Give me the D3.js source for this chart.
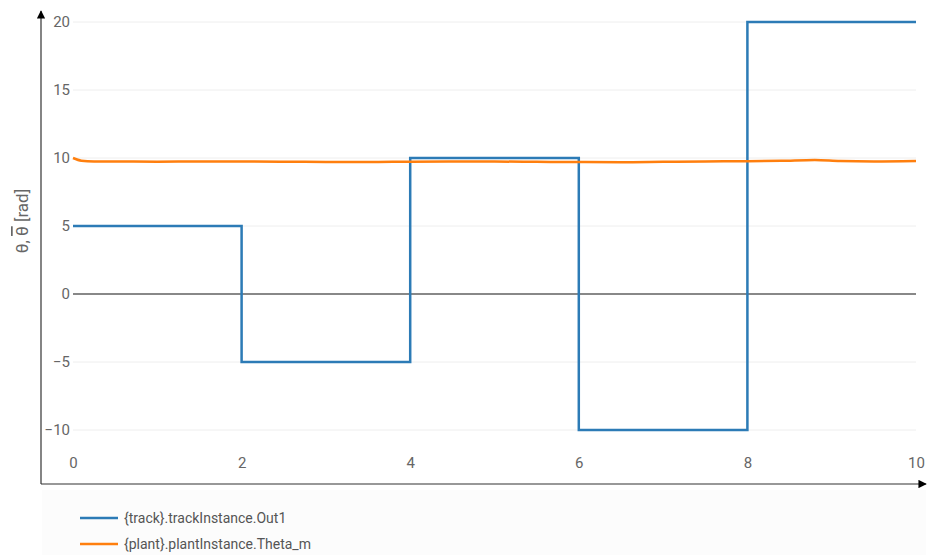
<!DOCTYPE html>
<html>
<head>
<style>
  body { margin: 0; background: #fff; font-family: Roboto, Arial, sans-serif; }
  .tick text { fill: #666; }
</style>
</head>
<body>
<svg id="chart" width="927" height="555"></svg>
<script src="https://cdnjs.cloudflare.com/ajax/libs/d3/7.8.5/d3.min.js"></script>
<script>
// reference step signal
const trackTime = [0, 2, 4, 6, 8, 10];
const trackValue = [5, -5, 10, -10, 20, 20];
// measured angle
const plantTime = [0, 0.1, 0.25, 0.6, 1, 1.5, 2, 2.5, 3, 3.5, 4, 4.5, 5, 5.5, 6, 6.5, 7, 7.5, 8, 8.4, 8.8, 9.1, 9.5, 10];
const plantValue = [10.0, 9.8, 9.75, 9.74, 9.73, 9.74, 9.74, 9.73, 9.71, 9.7, 9.73, 9.74, 9.74, 9.72, 9.7, 9.69, 9.72, 9.75, 9.76, 9.79, 9.86, 9.78, 9.75, 9.78];
const xTicks = [0, 2, 4, 6, 8, 10];
const yTicks = [-10, -5, 0, 5, 10, 15, 20];
const seriesNames = ["{track}.trackInstance.Out1", "{plant}.plantInstance.Theta_m"];
const colors = ["#2c7bb6", "#ff7f0e"];

const svg = d3.select("#chart");
const x = d3.scaleLinear().domain([0, 10]).range([73, 916]);
const y = d3.scaleLinear().domain([-10, 20]).range([430, 22]);

svg.append("defs").append("marker")
  .attr("id", "arrow")
  .attr("viewBox", "0 0 10 10")
  .attr("refX", 9).attr("refY", 5)
  .attr("markerWidth", 7).attr("markerHeight", 7)
  .attr("orient", "auto")
  .append("path").attr("d", "M0,0 L10,5 L0,10 z").attr("fill", "#000");

// grid
svg.append("g").selectAll("line")
  .data(yTicks.filter(d => d !== 0))
  .join("line")
  .attr("x1", x(0)).attr("x2", x(10))
  .attr("y1", d => y(d)).attr("y2", d => y(d))
  .attr("stroke", "#eee").attr("stroke-width", 1);

// y tick labels
const yAxis = svg.append("g")
  .attr("transform", `translate(${x(0)},0)`)
  .call(d3.axisLeft(y).tickValues(yTicks).tickSize(0).tickPadding(3));
yAxis.select(".domain").remove();
yAxis.selectAll("text").attr("font-family", "Roboto, Arial, sans-serif").attr("font-size", 15);

// x tick labels
const xAxis = svg.append("g")
  .attr("transform", `translate(0,${y(-10)})`)
  .call(d3.axisBottom(x).tickValues(xTicks).tickSize(0).tickPadding(27));
xAxis.select(".domain").remove();
xAxis.selectAll("text").attr("font-family", "Roboto, Arial, sans-serif").attr("font-size", 15);

// zero line
svg.append("line")
  .attr("x1", x(0)).attr("x2", x(10))
  .attr("y1", y(0)).attr("y2", y(0))
  .attr("stroke", "#888").attr("stroke-width", 2);

// axis arrows
svg.append("line")
  .attr("x1", 41).attr("x2", 41).attr("y1", 484).attr("y2", 11)
  .attr("stroke", "#333").attr("stroke-width", 1.2)
  .attr("marker-end", "url(#arrow)");
svg.append("line")
  .attr("x1", 41).attr("x2", 926).attr("y1", 484).attr("y2", 484)
  .attr("stroke", "#333").attr("stroke-width", 1.2)
  .attr("marker-end", "url(#arrow)");

// series
const trackLine = d3.line()
  .x((d, i) => x(trackTime[i]))
  .y(d => y(d))
  .curve(d3.curveStepAfter);
svg.append("path")
  .attr("d", trackLine(trackValue))
  .attr("fill", "none").attr("stroke", colors[0]).attr("stroke-width", 2.5);

const plantLine = d3.line()
  .x((d, i) => x(plantTime[i]))
  .y(d => y(d))
  .curve(d3.curveMonotoneX);
svg.append("path")
  .attr("d", plantLine(plantValue))
  .attr("fill", "none").attr("stroke", colors[1]).attr("stroke-width", 2.5);

// axis titles
svg.append("text")
  .attr("x", 469).attr("y", 503)
  .attr("text-anchor", "middle")
  .attr("fill", "#666").attr("font-size", 15)
  .text("time [s]");

const yl = svg.append("text")
  .attr("transform", "translate(28,221) rotate(-90)")
  .attr("text-anchor", "middle")
  .attr("fill", "#666").attr("font-size", 17);
yl.append("tspan").text("θ, ");
yl.append("tspan").style("text-decoration", "overline").text("θ");
yl.append("tspan").text(" [rad]");

// legend
svg.append("rect")
  .attr("x", 42).attr("y", 490).attr("width", 884).attr("height", 65)
  .attr("fill", "#fcfcfc");
const legend = svg.append("g").selectAll("g")
  .data(seriesNames)
  .join("g")
  .attr("transform", (d, i) => `translate(80,${518 + i * 26})`);
legend.append("line")
  .attr("x1", 0).attr("x2", 38)
  .attr("stroke", (d, i) => colors[i]).attr("stroke-width", 2.5);
legend.append("text")
  .attr("x", 44).attr("dy", "0.35em")
  .attr("fill", "#555").attr("font-size", 14)
  .text(d => d);
</script>
</body>
</html>
